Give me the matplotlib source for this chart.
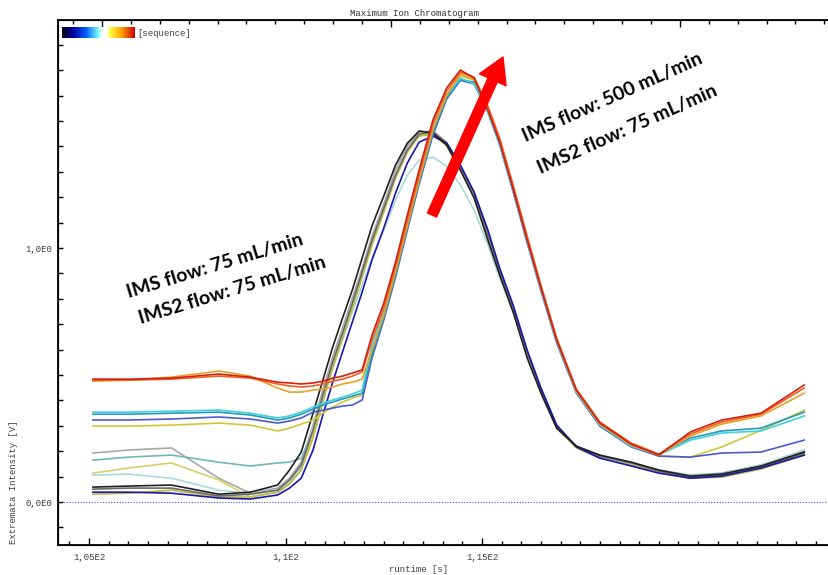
import matplotlib
matplotlib.use("Agg")
import matplotlib.pyplot as plt
from matplotlib.ticker import MultipleLocator, FixedLocator, FixedFormatter
from matplotlib.colors import LinearSegmentedColormap
import numpy as np

# runtime grid [s] shared by all traces
runtime = [105.1, 106.0, 107.1, 108.3, 109.1, 109.8, 110.1, 110.4, 110.7, 110.95,
           111.2, 111.45, 111.7, 111.95, 112.2, 112.5, 112.8, 113.1, 113.4, 113.75,
           114.1, 114.45, 114.8, 115.15, 115.45, 115.8, 116.15, 116.5, 116.9, 117.4,
           118.0, 118.8, 119.5, 120.3, 121.1, 122.1, 123.2]

# IMS flow 75 mL/min runs (earlier peak)
a_black = [0.059, 0.063, 0.067, 0.031, 0.039, 0.067, 0.126, 0.197, 0.350, 0.480, 0.610, 0.724, 0.835,
           0.961, 1.087, 1.205, 1.327, 1.413, 1.461, 1.453, 1.406, 1.307, 1.197, 1.031, 0.894, 0.744,
           0.567, 0.429, 0.291, 0.220, 0.185, 0.157, 0.126, 0.102, 0.110, 0.142, 0.197]
a_blue = [0.039, 0.039, 0.035, 0.016, 0.012, 0.028, 0.055, 0.094, 0.205, 0.343, 0.472, 0.591, 0.709,
          0.827, 0.953, 1.079, 1.217, 1.335, 1.417, 1.441, 1.413, 1.327, 1.220, 1.071, 0.921, 0.772,
          0.598, 0.449, 0.303, 0.217, 0.173, 0.142, 0.114, 0.094, 0.102, 0.134, 0.185]
a_gray = [0.051, 0.055, 0.055, 0.024, 0.031, 0.047, 0.087, 0.146, 0.283, 0.421, 0.551, 0.665, 0.783,
          0.906, 1.031, 1.157, 1.287, 1.386, 1.449, 1.457, 1.413, 1.323, 1.217, 1.055, 0.913, 0.764,
          0.591, 0.441, 0.299, 0.220, 0.181, 0.154, 0.122, 0.098, 0.106, 0.138, 0.193]
a_olive = [0.031, 0.035, 0.047, 0.020, 0.020, 0.039, 0.071, 0.126, 0.252, 0.394, 0.528, 0.646, 0.764,
           0.886, 1.012, 1.142, 1.276, 1.378, 1.441, 1.449, 1.402, 1.307, 1.201, 1.043, 0.902, 0.752,
           0.579, 0.433, 0.291, 0.213, 0.173, 0.146, 0.118, 0.094, 0.098, 0.130, 0.185]
a_lightcyan = [0.106, 0.110, 0.094, 0.047, 0.035, 0.047, 0.079, 0.134, 0.291, 0.409, 0.528, 0.638, 0.748,
               0.854, 0.961, 1.071, 1.189, 1.287, 1.346, 1.358, 1.323, 1.248, 1.150, 1.012, 0.882, 0.748,
               0.591, 0.449, 0.303, 0.217, 0.177, 0.150, 0.122, 0.102, 0.110, 0.146, 0.205]
a_lightgray = [0.193, 0.205, 0.213, 0.094, 0.035, 0.055, 0.094, 0.157, 0.303, 0.441, 0.571, 0.685, 0.803,
               0.921, 1.047, 1.173, 1.307, 1.402, 1.457, 1.461, 1.417, 1.323, 1.213, 1.047, 0.906, 0.756,
               0.583, 0.437, 0.295, 0.217, 0.177, 0.150, 0.122, 0.098, 0.102, 0.134, 0.189]
a_teal = [0.165, 0.177, 0.185, 0.157, 0.142, 0.154, 0.157, 0.173, 0.276, 0.409, 0.543, 0.661, 0.776,
          0.894, 1.020, 1.150, 1.283, 1.386, 1.445, 1.449, 1.406, 1.315, 1.209, 1.047, 0.909, 0.760,
          0.587, 0.441, 0.299, 0.220, 0.181, 0.154, 0.126, 0.106, 0.114, 0.146, 0.201]
a_yellow = [0.114, 0.134, 0.154, 0.087, 0.020, 0.039, 0.071, 0.134, 0.272, 0.402, 0.535, 0.654, 0.772,
            0.890, 1.016, 1.146, 1.280, 1.382, 1.445, 1.453, 1.406, 1.311, 1.205, 1.047, 0.906, 0.756,
            0.583, 0.437, 0.295, 0.217, 0.177, 0.150, 0.122, 0.098, 0.102, 0.134, 0.189]

# IMS flow 500 mL/min runs (later, higher peak)
b_red = [0.484, 0.484, 0.488, 0.504, 0.492, 0.472, 0.469, 0.465, 0.469, 0.476, 0.488, 0.496, 0.508,
         0.520, 0.657, 0.783, 0.945, 1.130, 1.307, 1.504, 1.630, 1.701, 1.669, 1.543, 1.417, 1.228,
         1.031, 0.843, 0.638, 0.441, 0.311, 0.228, 0.185, 0.276, 0.323, 0.350, 0.461]
b_orangered = [0.480, 0.480, 0.484, 0.496, 0.488, 0.465, 0.457, 0.453, 0.457, 0.465, 0.476, 0.484, 0.496,
               0.512, 0.638, 0.764, 0.929, 1.110, 1.291, 1.488, 1.618, 1.693, 1.673, 1.559, 1.433, 1.244,
               1.047, 0.854, 0.646, 0.445, 0.315, 0.232, 0.189, 0.268, 0.315, 0.346, 0.449]
b_orange = [0.476, 0.480, 0.492, 0.516, 0.496, 0.449, 0.433, 0.433, 0.441, 0.445, 0.453, 0.465, 0.472,
            0.484, 0.598, 0.736, 0.906, 1.087, 1.268, 1.465, 1.602, 1.685, 1.665, 1.551, 1.425, 1.236,
            1.039, 0.846, 0.638, 0.437, 0.307, 0.224, 0.185, 0.260, 0.307, 0.339, 0.429]
b_cyan = [0.354, 0.354, 0.358, 0.362, 0.350, 0.331, 0.339, 0.354, 0.374, 0.390, 0.402, 0.413, 0.425,
          0.441, 0.618, 0.756, 0.921, 1.102, 1.283, 1.472, 1.602, 1.669, 1.646, 1.535, 1.406, 1.220,
          1.024, 0.835, 0.630, 0.433, 0.303, 0.220, 0.185, 0.244, 0.272, 0.280, 0.339]
b_teal = [0.346, 0.346, 0.350, 0.354, 0.343, 0.323, 0.331, 0.346, 0.366, 0.382, 0.394, 0.406, 0.417,
          0.429, 0.579, 0.724, 0.894, 1.079, 1.260, 1.453, 1.591, 1.661, 1.654, 1.543, 1.417, 1.228,
          1.031, 0.839, 0.634, 0.437, 0.307, 0.224, 0.189, 0.252, 0.280, 0.291, 0.354]
b_blue = [0.323, 0.323, 0.327, 0.335, 0.327, 0.311, 0.319, 0.331, 0.354, 0.362, 0.370, 0.378, 0.382,
          0.402, 0.567, 0.717, 0.886, 1.071, 1.252, 1.445, 1.587, 1.661, 1.646, 1.535, 1.406, 1.217,
          1.020, 0.831, 0.626, 0.429, 0.299, 0.217, 0.181, 0.177, 0.193, 0.197, 0.244]
b_yellow = [0.299, 0.299, 0.303, 0.311, 0.303, 0.280, 0.291, 0.307, 0.323, 0.350, 0.374, 0.394, 0.409,
            0.421, 0.575, 0.724, 0.898, 1.083, 1.264, 1.457, 1.598, 1.677, 1.661, 1.547, 1.421, 1.232,
            1.035, 0.843, 0.634, 0.433, 0.303, 0.220, 0.181, 0.177, 0.217, 0.283, 0.362]

traces = [
    (a_lightgray, "#a8a8a8"), (a_teal, "#70b8b8"), (a_yellow, "#d8d068"),
    (a_lightcyan, "#a8dada"), (a_olive, "#c0b840"), (a_gray, "#6a6a6a"),
    (a_blue, "#1818b0"), (a_black, "#202020"),
    (b_yellow, "#d0c838"), (b_blue, "#4a5ad0"), (b_teal, "#2898b8"),
    (b_cyan, "#40d0e0"), (b_orange, "#e8a028"), (b_orangered, "#f06020"),
    (b_red, "#d42010"),
]

mono = "Liberation Mono"

fig = plt.figure(figsize=(8.29, 5.75), dpi=100)
ax = fig.add_axes([58 / 829, 30 / 575, 771 / 829, 525 / 575])

ax.axhline(0, color="#5050e0", lw=0.8, ls=(0, (1, 1.5)), zorder=1)
for vals, col in traces:
    ax.plot(runtime, vals, color=col, lw=1.2, zorder=2)

ax.set_xlim(104.21, 123.83)
ax.set_ylim(-0.169, 1.898)

ax.xaxis.set_major_locator(FixedLocator([105, 110, 115]))
ax.xaxis.set_major_formatter(FixedFormatter(["1,05E2", "1,1E2", "1,15E2"]))
ax.xaxis.set_minor_locator(MultipleLocator(0.5))
ax.yaxis.set_major_locator(FixedLocator([0, 1]))
ax.yaxis.set_major_formatter(FixedFormatter(["0,0E0", "1,0E0"]))
ax.yaxis.set_minor_locator(MultipleLocator(0.1))
ax.tick_params(axis="x", which="major", direction="in", length=5, width=1, pad=6,
               labelsize=6.5, labelcolor="#404040")
ax.tick_params(axis="x", which="minor", direction="in", length=3, width=1)
ax.tick_params(axis="y", which="both", direction="in", length=3.5, width=1, pad=4,
               labelsize=6.5, labelcolor="#404040")
for lab in ax.get_xticklabels() + ax.get_yticklabels():
    lab.set_family(mono)
for s in ["left", "bottom", "top"]:
    ax.spines[s].set_linewidth(1.3)
ax.spines["right"].set_visible(False)

fig.text(419 / 829, 1 - 569 / 575, "runtime [s]", family=mono, fontsize=6.5,
         color="#404040", ha="center", va="center")
fig.text(14 / 829, 1 - 482 / 575, "Extremata Intensity [V]", family=mono, fontsize=6.5,
         color="#404040", rotation=90, ha="center", va="center")
fig.text(415 / 829, 1 - 13 / 575, "Maximum Ion Chromatogram", family=mono, fontsize=6.5,
         color="#303030", ha="center", va="center")

# top tick marks (separate scale)
top = ax.twiny()
top.set_xlim(-1.522, 25.16)
top.xaxis.set_major_locator(FixedLocator([0, 10, 20]))
top.xaxis.set_minor_locator(MultipleLocator(1))
top.tick_params(axis="x", which="major", direction="in", length=5, width=1, labeltop=False)
top.tick_params(axis="x", which="minor", direction="in", length=3, width=1)
top.spines["right"].set_visible(False)

# sequence colour key
seq = LinearSegmentedColormap.from_list("seq", [
    (0.0, "#000018"), (0.15, "#0000a0"), (0.33, "#0060ff"), (0.5, "#80ffff"),
    (0.55, "#ffffff"), (0.62, "#ffffff"), (0.66, "#ffff40"), (0.82, "#ffa000"),
    (1.0, "#d00000")])
kax = fig.add_axes([62 / 829, 1 - 38 / 575, 73 / 829, 11 / 575])
kax.imshow(np.linspace(0, 1, 200)[None, :], aspect="auto", cmap=seq)
kax.axis("off")
fig.text(137 / 829, 1 - 33 / 575, "[sequence]", family=mono, fontsize=6.5,
         color="#404040", va="center")

# annotations
bold = dict(family="Lato", fontweight="bold", fontsize=14, color="black",
            ha="center", va="center", rotation_mode="anchor")
fig.text(215 / 829, 1 - 266 / 575, "IMS flow: 75 mL/min", rotation=17, **bold)
fig.text(232 / 829, 1 - 290 / 575, "IMS2 flow: 75 mL/min", rotation=17, **bold)
fig.text(612 / 829, 1 - 97 / 575, "IMS flow: 500 mL/min", rotation=24, **bold)
fig.text(627 / 829, 1 - 129 / 575, "IMS2 flow: 75 mL/min", rotation=24, **bold)

ax.annotate("", xy=(503, 575 - 57), xytext=(432, 575 - 215),
            xycoords="figure pixels", textcoords="figure pixels",
            arrowprops=dict(arrowstyle="simple,head_width=1.05,head_length=0.9,tail_width=0.36",
                            color="#ff0000", mutation_scale=20, shrinkA=0, shrinkB=0))

plt.savefig("out.png", dpi=100)
